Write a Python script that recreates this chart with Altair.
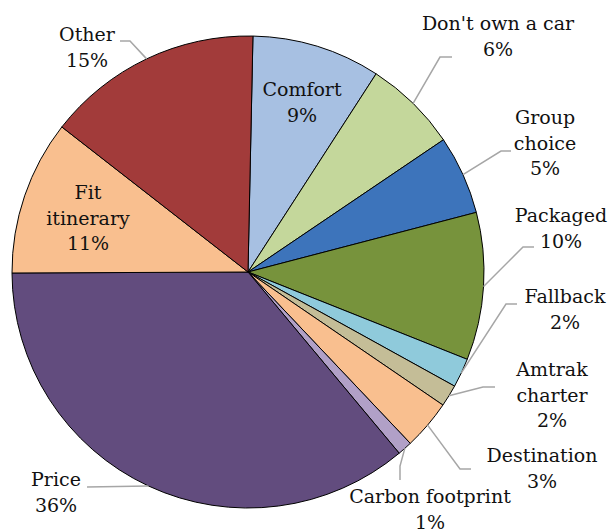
import math
import altair as alt
import pandas as pd

# ---- data ----
categories = ["Comfort", "Don't own a car", "Group choice", "Packaged", "Fallback",
              "Amtrak charter", "Destination", "Carbon footprint", "Price",
              "Fit itinerary", "Other"]
values = [8.8, 6.4, 5.4, 10.1, 2.0, 1.5, 3.4, 1.0, 36.0, 10.6, 14.8]
pct_labels = ["9%", "6%", "5%", "10%", "2%", "2%", "3%", "1%", "36%", "11%", "15%"]
label_names = ["Comfort", "Don't own a car", "Group\nchoice", "Packaged", "Fallback",
               "Amtrak\ncharter", "Destination", "Carbon footprint", "Price",
               "Fit\nitinerary", "Other"]
colors = ["#A7C0E2", "#C4D79B", "#3D74BB", "#77933C", "#8FCADB", "#C4BD97",
          "#F9BF8F", "#B1A0C7", "#624C7E", "#F9BF8F", "#A23B3A"]

# ---- layout (pixels relative to the pie centre; first text line centre) ----
CX, CY, R = 240, 264, 236
START = math.radians(1.2)
label_offsets = [(54, -182), (250, -248), (297, -154), (313, -56), (317, 25),
                 (304, 98), (294, 184), (182, 225), (-192, 208),
                 (-160, -79), (-161, -237)]
leader_elbow = [None, (192, -215), (253, -121), (275, -25), (258, 32), (235, 115),
                (212, 197), (152, 194), None, None, (-118, -231)]
leader_end = [None, (204, -215), (263, -121), (286, -25), (269, 32), (247, 115),
              (223, 197), (152, 208), (-161, 215), None, (-128, -231)]

pie_df = pd.DataFrame({"name": categories, "value": values,
                       "idx": list(range(len(categories)))})

lab_rows = []
line_rows = []
cum = 0.0
for i, (c, v) in enumerate(zip(categories, values)):
    mid = START + 2 * math.pi * (cum + v / 2) / 100.0
    cum += v
    dx, dy = label_offsets[i]
    lab_rows.append({"name": c, "text": label_names[i] + "\n" + pct_labels[i],
                     "lx": CX + dx, "ly": CY + dy})
    if leader_end[i] is not None:
        pts = [(R * math.sin(mid), -R * math.cos(mid))]
        if leader_elbow[i] is not None:
            pts.append(leader_elbow[i])
        pts.append(leader_end[i])
        for k, (px, py) in enumerate(pts):
            line_rows.append({"name": c, "step": k, "px": CX + px, "py": CY + py})

lab_df = pd.DataFrame(lab_rows)
line_df = pd.DataFrame(line_rows)

pie = alt.Chart(pie_df).mark_arc(radius=R, stroke="black", strokeWidth=1).encode(
    theta=alt.Theta("value:Q", stack=True,
                    scale=alt.Scale(domain=[0, 100], range=[START, START + 2 * math.pi])),
    color=alt.Color("name:N", scale=alt.Scale(domain=categories, range=colors), legend=None),
    order=alt.Order("idx:Q"),
    x=alt.value(CX),
    y=alt.value(CY),
)

leaders = alt.Chart(line_df).mark_line(color="#A6A6A6", strokeWidth=1.5).encode(
    x=alt.X("px:Q", scale=None),
    y=alt.Y("py:Q", scale=None),
    detail="name:N",
    order="step:Q",
)

labels = alt.Chart(lab_df).mark_text(
    font="'DejaVu Serif', 'Liberation Serif', 'Times New Roman', serif",
    fontSize=19, lineBreak="\n", lineHeight=25.5,
    align="center", baseline="middle", color="#111111"
).encode(
    x=alt.X("lx:Q", scale=None),
    y=alt.Y("ly:Q", scale=None),
    text="text:N",
)

chart = alt.layer(pie, leaders, labels).properties(
    width=600, height=523,
    autosize=alt.AutoSizeParams(type="none"),
    padding=0,
).configure_view(stroke=None)

chart.save("out.html", embed_options={"renderer": "svg", "actions": False})
